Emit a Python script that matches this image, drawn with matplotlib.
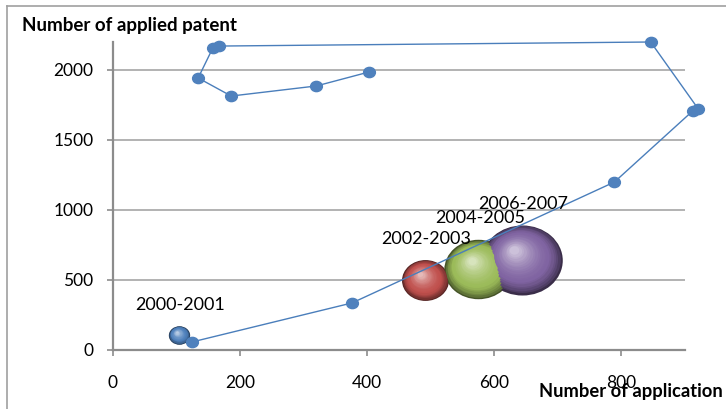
import numpy as np
import matplotlib.pyplot as plt
from matplotlib.path import Path
from matplotlib.transforms import Affine2D, offset_copy
from matplotlib.lines import Line2D
from matplotlib.colors import to_rgb

plt.rcParams['font.family'] = ['Lato', 'DejaVu Sans']

# yearly trajectory: applications vs applied patents
app_x = [124, 376, 789, 912, 921, 846, 167, 157, 134, 186, 320, 403]
patent_y = [57, 336, 1200, 1707, 1721, 2200, 2171, 2157, 1943, 1814, 1886, 1986]

# two-year period bubbles
periods = ['2000-2001', '2002-2003', '2004-2005', '2006-2007']
bubble_x = [104, 491, 575, 644]
bubble_y = [107, 500, 579, 643]
bubble_size = [7, 34, 72, 100]
bubble_colors = ['#4F81BD', '#C0504D', '#9BBB59', '#8064A2']

x_ticks = [0, 200, 400, 600, 800]
y_ticks = [0, 500, 1000, 1500, 2000]

# slightly wide ellipse used for every marker
ellipse = Path.unit_circle().transformed(Affine2D().scale(1.15, 1.0))

fig = plt.figure(figsize=(7.26, 4.09), dpi=100)
ax = fig.add_axes([113 / 726, 1 - 350 / 409, 572 / 726, 308 / 409])

grid_c = '#A6A6A6'
for v in y_ticks[1:]:
    ax.axhline(v, color=grid_c, lw=1.2, zorder=0)

# shaded spheres: dark rim, body colour, small light spot at the upper left
max_w = 58.0  # points, width of the largest bubble
n_layers = 20
for bx, by, bs, col, lab in zip(bubble_x, bubble_y, bubble_size, bubble_colors, periods):
    w = max_w * np.sqrt(bs / 100)
    base = np.array(to_rgb(col))
    dark = base * 0.45
    light = base + (1 - base) * 0.6
    for k in range(n_layers):
        t = k / (n_layers - 1)
        frac = 1 - 0.88 * t
        if t < 0.3:
            c = dark + (base - dark) * (t / 0.3) ** 0.7
        else:
            c = base + (light - base) * ((t - 0.3) / 0.7) ** 1.6
        tr = offset_copy(ax.transData, fig=fig, x=-0.1 * w * t, y=0.12 * w * t, units='points')
        ax.scatter([bx], [by], s=(w * frac) ** 2, marker=ellipse, color=c,
                   linewidths=0, transform=tr, zorder=2 + k * 0.01, clip_on=False)
    ax.annotate(lab, (bx, by), xytext=(1, w / 1.15 / 2 + 15), textcoords='offset points',
                ha='center', va='center', fontsize=13, color='black', zorder=5)

ax.plot(app_x, patent_y, color='#4A7EBB', lw=1.0, marker=ellipse, ms=8.5,
        mfc='#4F81BD', mec='#4F81BD', zorder=4, clip_on=False)

ax.set_xlim(0, 900)
ax.set_ylim(0, 2200)
ax.set_xticks(x_ticks)
ax.set_yticks(y_ticks)
ax.set_xticklabels([str(v) for v in x_ticks], fontsize=12.5)
ax.set_yticklabels([str(v) for v in y_ticks], fontsize=12.5)
ax.tick_params(axis='x', length=4, width=1.2, color='#8C8C8C', pad=14)
ax.tick_params(axis='y', length=4, width=1.2, color='#8C8C8C', pad=10)
for side in ['top', 'right']:
    ax.spines[side].set_visible(False)
for side in ['left', 'bottom']:
    ax.spines[side].set_color('#8C8C8C')
    ax.spines[side].set_linewidth(1.6)

fig.text(22 / 726, 1 - 25 / 409, 'Number of applied patent', fontsize=13.5,
         fontweight='bold', ha='left', va='center')
fig.text(539 / 726, 1 - 392 / 409, 'Number of application', fontsize=13.2,
         fontweight='bold', ha='left', va='center')

# chart frame
fig.add_artist(Line2D([7 / 726, 7 / 726], [0, 1 - 6 / 409], color='#A0A0A0', lw=1.2))
fig.add_artist(Line2D([7 / 726, 1], [1 - 6 / 409, 1 - 6 / 409], color='#A0A0A0', lw=1.2))

fig.savefig('out.png', dpi=100)
